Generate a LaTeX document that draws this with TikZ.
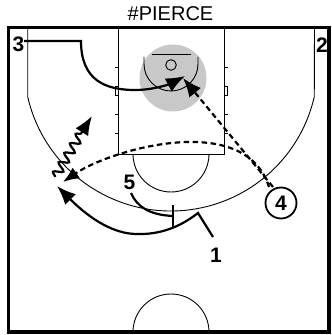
\documentclass[tikz,border=0pt]{standalone}
\usepackage{fontspec}
\setmainfont{Liberation Sans}
\usetikzlibrary{arrows.meta,decorations.pathmorphing}
\begin{document}
\begin{tikzpicture}[x=1pt,y=1pt,
  court/.style={line width=0.9pt},
  move/.style={line width=2.2pt},
  pass/.style={line width=2.2pt, dash pattern=on 5.5pt off 3.5pt},
  tipbig/.style={-{Latex[length=19pt,width=15pt]}},
  lbl/.style={font=\fontsize{21}{21}\selectfont\bfseries, inner sep=0pt},
]
\useasboundingbox (0,0) rectangle (332,335);
% highlight
\fill[gray!43] (173,257) circle (33.5);
% court
\draw[court] (118,307) rectangle (224,181);
\draw[court] (27.7,307) -- (27.7,238.2) arc[start angle=192.9, end angle=347.1, radius=147] -- (314.5,307);
\draw[court] (133,181) arc[start angle=180, end angle=360, radius=38];
\draw[court] (209,3) arc[start angle=0, end angle=180, radius=38];
\draw[court] (152,281) -- (191,281);
\draw[court] (171,270) circle (5.3);
\draw[court] (144,278) -- (144,271) arc[start angle=180, end angle=360, radius=27] -- (198,278);
% hash marks
\foreach \yy in {268,221,202} {
  \draw[court] (118,\yy) -- (114.5,\yy);
  \draw[court] (224,\yy) -- (227.5,\yy);
}
\draw[court] (118,249) rectangle (115,240);
\draw[court] (224,249) rectangle (227.5,240);
% border
\draw[line width=3.5pt] (8.7,307.5) rectangle (329,3);
% title
\node[font=\fontsize{20}{20}\selectfont] (title) at (170.5,321) {\#PIERCE};
% players
\node[lbl] (p3) at (18.5,290.5) {3};
\node[lbl] (p2) at (322,289.5) {2};
\node[lbl] (p5) at (129.5,152.5) {5};
\node[lbl] (p1) at (216,80) {1};
\node[lbl, circle, draw, line width=1.8pt, minimum size=31pt] (p4) at (281,132) {4};
% coordinates
\coordinate (c3a) at (24,294);
\coordinate (c3b) at (81,294);
\coordinate (c3tip) at (185,259);
\coordinate (c4s) at (273,148);
\coordinate (c4arc) at (269,148);
\coordinate (bask) at (183,257);
\coordinate (wing) at (63,153);
\coordinate (c1s) at (213,98);
\coordinate (c1apex) at (198,122);
\coordinate (c1tip) at (57,149);
\coordinate (c5s) at (131,142);
\coordinate (c5e) at (173,119);
\coordinate (dribs) at (55,158);
\coordinate (dribm) at (82,203);
\coordinate (dribtip) at (92,219);
% 3 cut
\draw[move, tipbig] (c3a) -- (c3b) .. controls (81,255) and (105,245) .. (135,245) .. controls (155,245) and (172,252) .. (c3tip);
% passes
\draw[pass, tipbig] (c4s) -- (bask);
\draw[pass, -{Latex[length=16pt,width=13pt]}] (c4arc) .. controls (245,225) and (110,185) .. (wing);
% 1 cut
\draw[move, tipbig] (c1s) -- (c1apex) .. controls (180,108) and (160,100) .. (135,101) .. controls (105,102) and (78,128) .. (c1tip);
% 5 screen
\draw[move] (c5s) .. controls (137,128) and (150,120) .. (c5e);
\draw[move] (173,130) -- (173,108);
% dribble
\draw[move, decorate, decoration={snake, amplitude=4.5pt, segment length=11pt}] (dribs) -- (dribm);
\draw[move, tipbig] (dribm) -- (dribtip);
\end{tikzpicture}
\end{document}
